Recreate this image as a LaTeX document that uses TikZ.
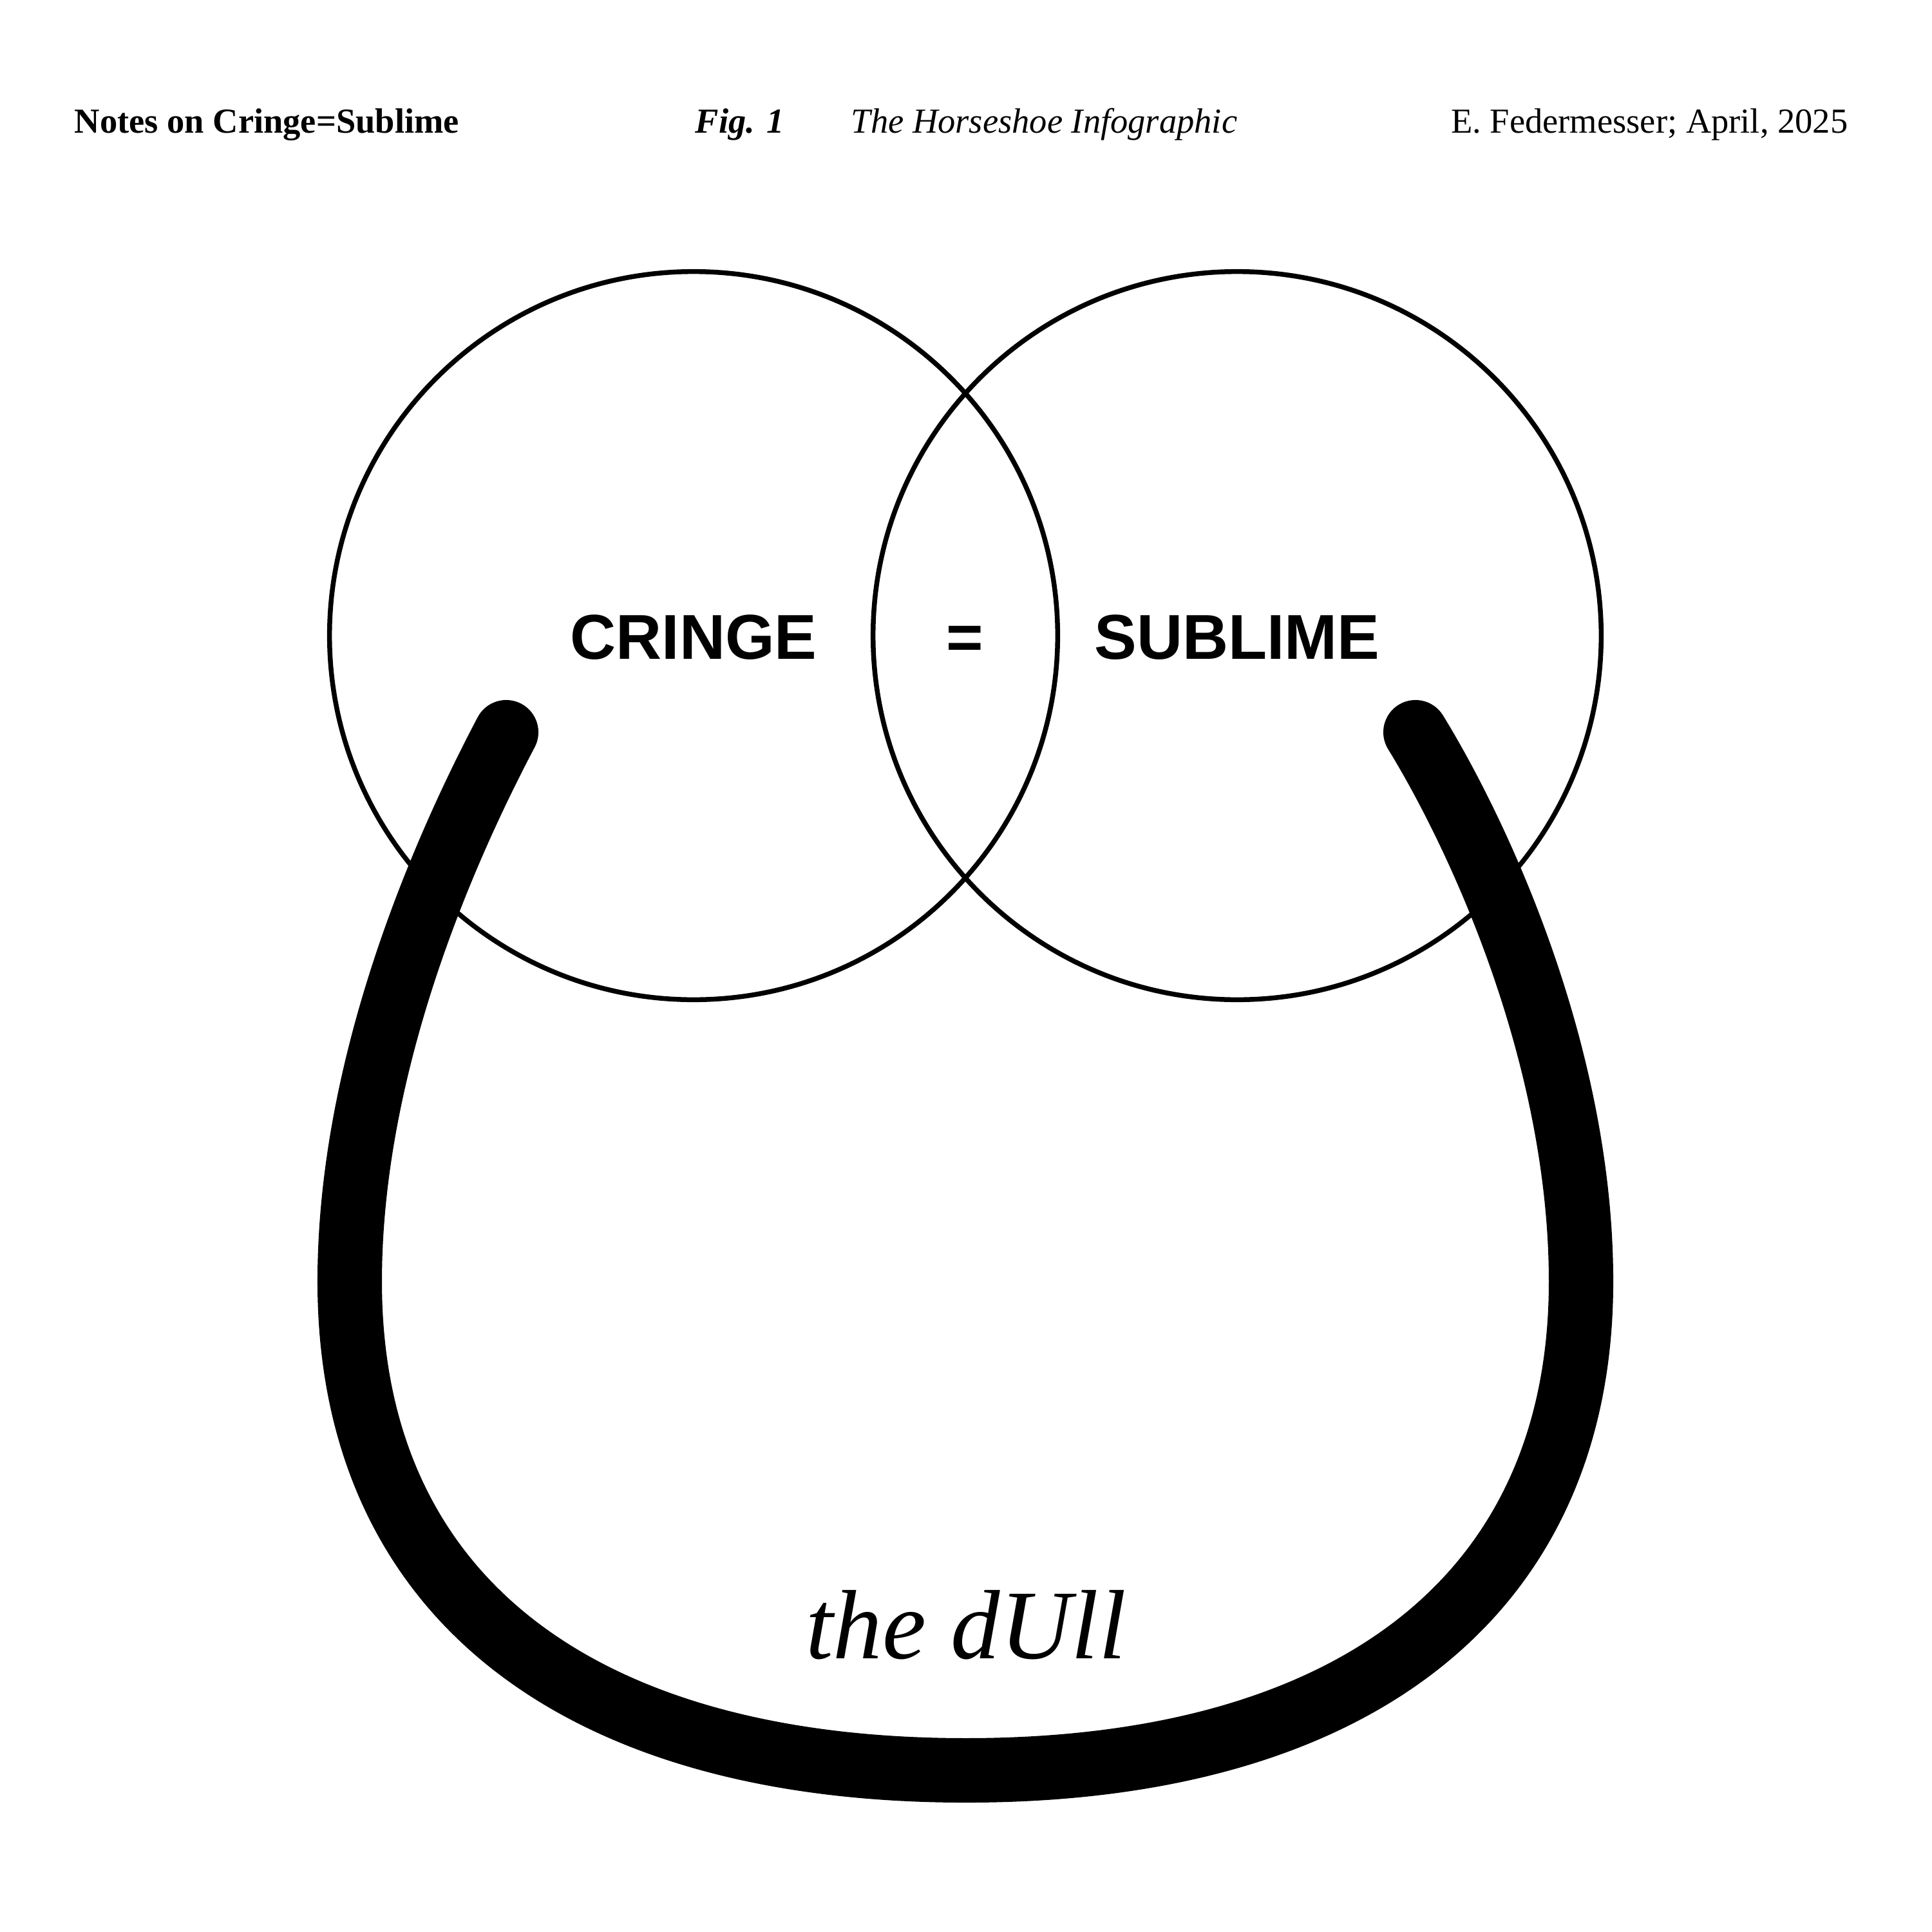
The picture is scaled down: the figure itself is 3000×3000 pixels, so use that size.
\documentclass[tikz,border=0pt]{standalone}
\usepackage{fontspec}
\setmainfont{Liberation Serif}
\setsansfont{Liberation Sans}
\usepackage{tikz}
\usetikzlibrary{positioning}

\begin{document}
\begin{tikzpicture}[
  x=0.01cm, y=-0.01cm,
  head/.style={inner sep=0pt,font=\fontsize{15.5}{18}\selectfont},
  ring/.style={circle,draw=black,line width=0.075cm,minimum size=11.3cm,inner sep=0pt},
  word/.style={inner sep=0pt,anchor=base,font=\fontsize{28}{32}\selectfont\sffamily\bfseries},
  shoe/.style={line width=1cm,line cap=round,black},
]
\path[fill=white,use as bounding box] (0,0) rectangle (3000,3000);

% running head
\node[head,anchor=base west] (notes)   at (115,206)  {\textbf{Notes on Cringe=Sublime}};
\node[head,anchor=base west] (fig)     at (1079,206) {\textbf{\textit{Fig. 1}}};
\node[head,anchor=base west] (caption) at (1321,206) {\textit{The Horseshoe Infographic}};
\node[head,anchor=base east] (author)  at (2870,206) {E. Federmesser; April, 2025};

% the two circles and their words
\node[ring] (cringe)  at (1077,987) {};
\node[ring] (sublime) at (1921,987) {};
\node[word] (cr) at (1077,1023) {CRINGE};
\node[word] (eq) at (1498,1023) {=};
\node[word] (sb) at (1921,1023) {SUBLIME};

% horseshoe
\coordinate (lend)  at (786,1137);
\coordinate (rend)  at (2198,1137);
\coordinate (lside) at (543,1990);
\coordinate (rside) at (2455,1990);
\coordinate (low)   at (1500,2749);
\draw[shoe] (lend) .. controls (700,1300) and (543,1640) .. (lside)
  .. controls (543,2480) and (900,2749) .. (low)
  .. controls (2098,2749) and (2455,2480) .. (rside)
  .. controls (2455,1640) and (2298,1300) .. (rend);

\node[inner sep=0pt,anchor=base,font=\fontsize{43.5}{48}\selectfont\itshape] (dull)
  at (1500,2575) {the dUll};
\end{tikzpicture}
\end{document}
